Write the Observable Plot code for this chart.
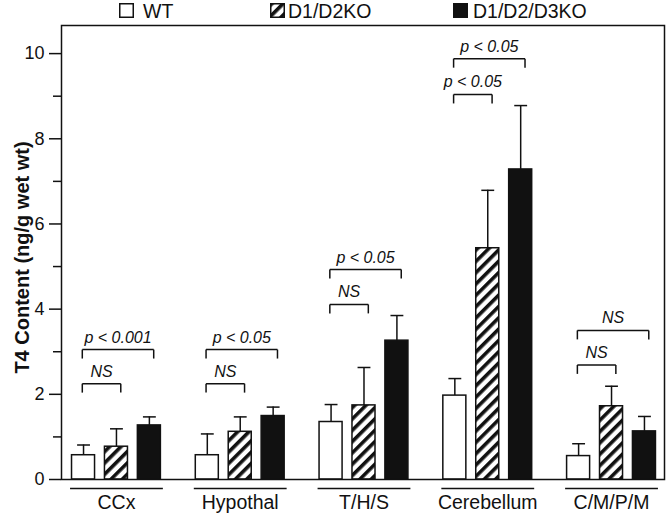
<!DOCTYPE html>
<html><head><meta charset="utf-8">
<script src="https://cdn.jsdelivr.net/npm/d3@7"></script>
<script src="https://cdn.jsdelivr.net/npm/@observablehq/plot@0.6"></script>
<style>
body{margin:0;background:#fff;font-family:"Liberation Sans",Arial,Helvetica,sans-serif;color:#111}
#legend{position:relative;width:668px;height:22px;font-size:19.5px;line-height:22px}
.sw{position:absolute;top:3px}
.lt{position:absolute;top:0}
</style></head><body>
<svg width="0" height="0" style="position:absolute">
<defs><pattern id="hatch" patternUnits="userSpaceOnUse" width="8" height="8" patternTransform="rotate(45)">
<rect width="8" height="8" fill="#fff"/><rect width="3.6" height="8" fill="#111"/></pattern></defs></svg>
<div id="legend"></div>
<div id="chart"></div>
<script>
const groups = ["CCx", "Hypothal", "T/H/S", "Cerebellum", "C/M/P/M"];
const series = ["WT", "D1/D2KO", "D1/D2/D3KO"];
const wtMean  = [0.57, 0.57, 1.35, 1.97, 0.55];
const wtSem   = [0.24, 0.50, 0.41, 0.40, 0.29];
const dkoMean = [0.77, 1.12, 1.74, 5.43, 1.72];
const dkoSem  = [0.42, 0.35, 0.89, 1.36, 0.47];
const tkoMean = [1.27, 1.49, 3.26, 7.28, 1.13];
const tkoSem  = [0.20, 0.21, 0.59, 1.50, 0.35];
const yTicks = [0, 2, 4, 6, 8, 10];
const yMinorTicks = [1, 3, 5, 7, 9];
const cmpGroup = [0, 0, 1, 1, 2, 2, 3, 3, 4, 4];
const cmpTo    = [1, 2, 1, 2, 1, 2, 1, 2, 1, 2];
const cmpLevel = [2.25, 3.05, 2.25, 3.05, 4.11, 4.93, 9.04, 9.88, 2.69, 3.50];
const cmpLabel = ["NS", "p < 0.001", "NS", "p < 0.05", "NS", "p < 0.05", "p < 0.05", "p < 0.05", "NS", "NS"];
const yLabel = "T4 Content (ng/g wet wt)";

const fills = ["#fff", "url(#hatch)", "#111"];
const means = [wtMean, dkoMean, tkoMean];
const sems = [wtSem, dkoSem, tkoSem];

// layout in x-units (one unit per group)
const OFF = 0.266, HW = 0.093, CAP = 0.052, TICK = 0.21;
const pos = (g, s) => g + (s - 1) * OFF;

const rows = [];
groups.forEach((g, gi) => series.forEach((s, si) => rows.push({
  group: g, series: s, gi, si, mean: means[si][gi], sem: sems[si][gi], x: pos(gi, si)
})));
const cmps = cmpGroup.map((g, i) => ({
  left: pos(g, 0) - 0.01, right: pos(g, cmpTo[i]) + 0.035, level: cmpLevel[i], label: cmpLabel[i]
}));
const grp = groups.map((g, gi) => ({name: g, gi, x1: pos(gi, 0) - HW - 0.016, x2: pos(gi, 2) + HW + 0.016}));

// legend
const leg = document.getElementById("legend");
const legLeft = [119, 270, 453], legText = [143, 288, 473];
series.forEach((s, i) => {
  leg.insertAdjacentHTML("beforeend",
    `<svg class="sw" style="left:${legLeft[i]}px" width="15" height="15"><rect x="0.75" y="0.75" width="13.5" height="13.5" fill="${fills[i]}" stroke="#111" stroke-width="1.5"/></svg>` +
    `<span class="lt" style="left:${legText[i]}px">${s}</span>`);
});

const sw = 1.5, ink = "#111";
const chart = Plot.plot({
  width: 668, height: 491,
  marginLeft: 61, marginRight: 4, marginTop: 3, marginBottom: 34,
  style: {fontFamily: "'Liberation Sans', Arial, Helvetica, sans-serif", color: ink, background: "#fff"},
  x: {domain: [-0.444, 4.428], axis: null},
  y: {domain: [0, 10.66], axis: null},
  marks: [
    ...series.map((s, si) => Plot.rectY(rows.filter(d => d.si === si), {
      x1: d => d.x - HW, x2: d => d.x + HW, y1: 0, y2: "mean",
      fill: fills[si], stroke: ink, strokeWidth: sw
    })),
    Plot.ruleX(rows, {x: "x", y1: "mean", y2: d => d.mean + d.sem, stroke: ink, strokeWidth: sw}),
    Plot.link(rows, {x1: d => d.x - CAP, x2: d => d.x + CAP, y1: d => d.mean + d.sem, y2: d => d.mean + d.sem, stroke: ink, strokeWidth: sw}),
    Plot.link(cmps, {x1: "left", x2: "right", y1: "level", y2: "level", stroke: ink, strokeWidth: sw}),
    Plot.link(cmps, {x1: "left", x2: "left", y1: "level", y2: d => d.level - TICK, stroke: ink, strokeWidth: sw}),
    Plot.link(cmps, {x1: "right", x2: "right", y1: "level", y2: d => d.level - TICK, stroke: ink, strokeWidth: sw}),
    Plot.text(cmps, {x: d => (d.left + d.right) / 2, y: "level", text: "label", lineAnchor: "bottom", dy: -7, fontStyle: "italic", fontSize: 16, fill: ink}),
    Plot.frame({stroke: ink, strokeWidth: sw}),
    Plot.axisY({ticks: yTicks, tickSize: 12, tickPadding: 5, fontSize: 18, label: null, strokeWidth: sw, stroke: ink}),
    Plot.axisY({ticks: yMinorTicks, tickSize: 8, tickFormat: () => "", label: null, strokeWidth: sw, stroke: ink}),
    Plot.link(grp, {x1: "x1", x2: "x2", y1: 0, y2: 0, dy: 9, stroke: ink, strokeWidth: sw}),
    Plot.text(grp, {x: "gi", y: 0, text: "name", dy: 29, lineAnchor: "bottom", fontSize: 19.5, fill: ink}),
    Plot.text([yLabel], {frameAnchor: "left", textAnchor: "middle", rotate: -90, dx: -39, dy: 5, fontWeight: "bold", fontSize: 20, fill: ink})
  ]
});
document.getElementById("chart").appendChild(chart);
</script>
</body></html>
